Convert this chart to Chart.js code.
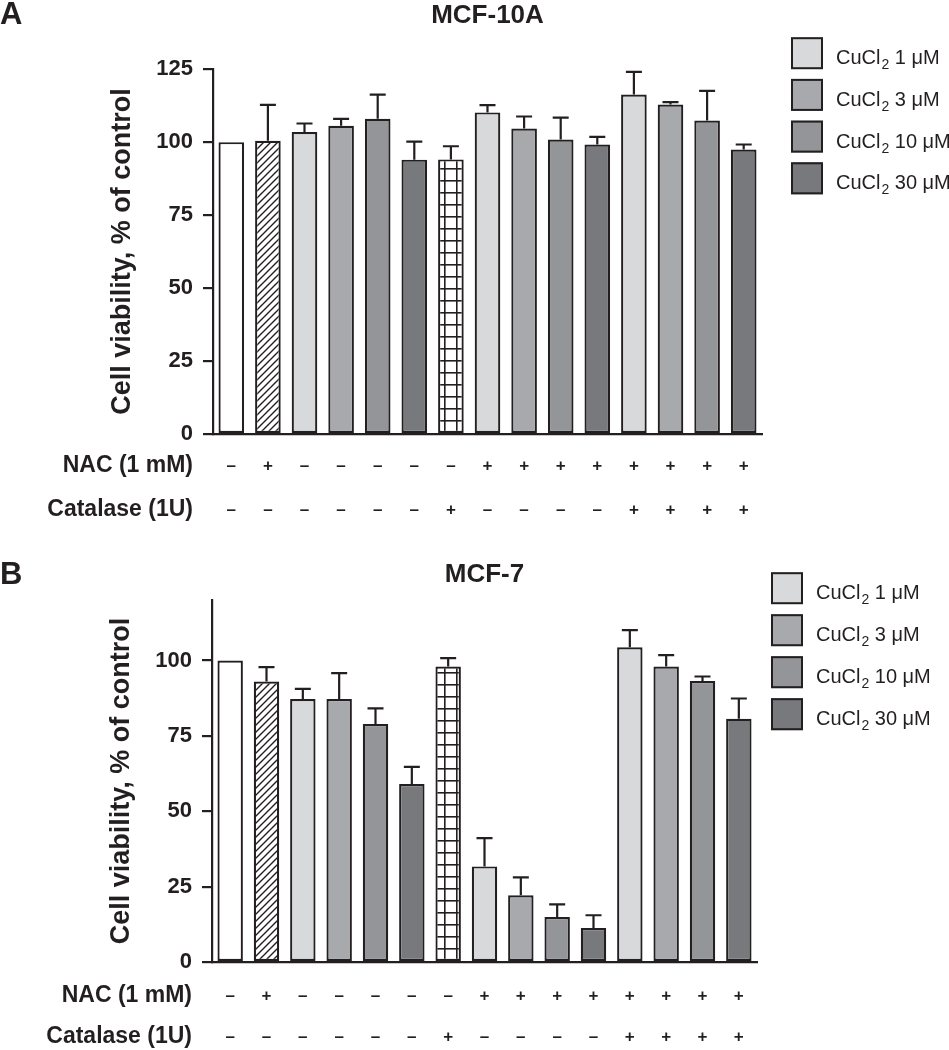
<!DOCTYPE html>
<html>
<head>
<meta charset="utf-8">
<script src="https://cdn.jsdelivr.net/npm/chart.js@4.4.1/dist/chart.umd.min.js"></script>
<style>
  body { margin: 0; background: #fff; font-family: "Liberation Sans", Arial, sans-serif; }
  #wrap { position: relative; width: 949px; height: 1050px; }
  canvas { position: absolute; left: 0; }
  .panel-letter { position: absolute; left: 0; font-weight: bold; font-size: 31px; line-height: 30px; color: #231f20; }
</style>
</head>
<body>
<div id="wrap">
  <canvas id="chartA" width="949" height="540" style="top:0"></canvas>
  <canvas id="chartB" width="949" height="510" style="top:540px"></canvas>
  <div class="panel-letter" style="top:-1px">A</div>
  <div class="panel-letter" style="top:559px">B</div>
</div>
<script>
// treatment groups (one bar each)
const categories = ['Control', 'NAC', 'CuCl2 1', 'CuCl2 3', 'CuCl2 10', 'CuCl2 30', 'Catalase',
  'NAC + CuCl2 1', 'NAC + CuCl2 3', 'NAC + CuCl2 10', 'NAC + CuCl2 30',
  'NAC + Cat + CuCl2 1', 'NAC + Cat + CuCl2 3', 'NAC + Cat + CuCl2 10', 'NAC + Cat + CuCl2 30'];
const nacSigns      = ['–', '+', '–', '–', '–', '–', '–', '+', '+', '+', '+', '+', '+', '+', '+'];
const catalaseSigns = ['–', '–', '–', '–', '–', '–', '+', '–', '–', '–', '–', '+', '+', '+', '+'];
const cuConcentrations = ['1 μM', '3 μM', '10 μM', '30 μM'];

// MCF-10A
const mcf10aValues = [100, 100.5, 103.5, 105.6, 108, 94, 94.1, 110.2, 104.7, 100.9, 99.2, 116.3, 112.9, 107.4, 97.5];
const mcf10aErrors = [0, 12.3, 2.9, 2.4, 8.3, 6.2, 4.5, 2.5, 4.1, 7.5, 2.6, 7.8, 0.8, 10.2, 1.7];
const yTicksA = [0, 25, 50, 75, 100, 125];

// MCF-7
const mcf7Values = [100, 93.0, 87.2, 87.2, 78.9, 59.0, 98.0, 31.7, 22.1, 14.9, 11.3, 104.4, 98.0, 93.2, 80.7];
const mcf7Errors = [0, 4.8, 3.4, 8.6, 5.2, 5.7, 2.8, 9.4, 6.0, 4.2, 4.2, 5.7, 3.8, 1.5, 6.7];
const yTicksB = [0, 25, 50, 75, 100];

const ink = '#231f20';
const family = '"Liberation Sans", Arial, sans-serif';
Chart.defaults.font.family = family;
Chart.defaults.color = ink;

const cuColors = ['#d8d9db', '#a7a9ac', '#939598', '#78797c'];

function makeHatch() {
  const c = document.createElement('canvas');
  c.width = 7; c.height = 7;
  const g = c.getContext('2d');
  g.fillStyle = '#fff'; g.fillRect(0, 0, 7, 7);
  g.strokeStyle = ink; g.lineWidth = 1.4;
  g.beginPath();
  g.moveTo(-1, 8); g.lineTo(8, -1);
  g.moveTo(-1, 1); g.lineTo(1, -1);
  g.moveTo(6, 8); g.lineTo(8, 6);
  g.stroke();
  return g.createPattern(c, 'repeat');
}

function makeGrid() {
  const c = document.createElement('canvas');
  c.width = 12; c.height = 12;
  const g = c.getContext('2d');
  g.fillStyle = '#fff'; g.fillRect(0, 0, 12, 12);
  g.fillStyle = ink;
  g.fillRect(0, 0, 12, 1.6);
  g.fillRect(0, 0, 1.6, 12);
  return g.createPattern(c, 'repeat');
}

const hatch = makeHatch();
const grid = makeGrid();
const barFills = ['#ffffff', hatch, cuColors[0], cuColors[1], cuColors[2], cuColors[3], grid,
  cuColors[0], cuColors[1], cuColors[2], cuColors[3], cuColors[0], cuColors[1], cuColors[2], cuColors[3]];

const errorBars = {
  id: 'errorBars',
  afterDatasetsDraw(chart) {
    const ds = chart.data.datasets[0];
    const meta = chart.getDatasetMeta(0);
    const y = chart.scales.y;
    const ctx = chart.ctx;
    ctx.save();
    ctx.strokeStyle = ink;
    ctx.lineWidth = 2.2;
    ds.errors.forEach((e, i) => {
      if (!e) return;
      const bar = meta.data[i];
      const top = y.getPixelForValue(ds.data[i]);
      const end = y.getPixelForValue(ds.data[i] + e);
      ctx.beginPath();
      ctx.moveTo(bar.x, top);
      ctx.lineTo(bar.x, end);
      ctx.moveTo(bar.x - 8, end);
      ctx.lineTo(bar.x + 8, end);
      ctx.stroke();
    });
    ctx.restore();
  }
};

function treatmentRows(offsets) {
  return {
    id: 'treatmentRows',
    afterDraw(chart) {
      const { ctx, chartArea, scales: { x } } = chart;
      const rows = [['NAC (1 mM)', nacSigns], ['Catalase (1U)', catalaseSigns]];
      ctx.save();
      ctx.fillStyle = ink;
      ctx.textBaseline = 'middle';
      rows.forEach(([label, signs], r) => {
        const y = chartArea.bottom + offsets[r];
        ctx.font = 'bold 23px ' + family;
        ctx.textAlign = 'right';
        ctx.fillText(label, chartArea.left - 20, y);
        ctx.font = 'bold 17px ' + family;
        ctx.textAlign = 'center';
        signs.forEach((s, i) => ctx.fillText(s, x.getPixelForValue(i), y));
      });
      ctx.restore();
    }
  };
}

function cuLegend(dx, dy, step) {
  return {
    id: 'cuLegend',
    afterDraw(chart) {
      const { ctx, chartArea } = chart;
      ctx.save();
      ctx.textAlign = 'left';
      ctx.textBaseline = 'alphabetic';
      cuConcentrations.forEach((conc, i) => {
        const bx = chartArea.right + dx;
        const cy = chartArea.top + dy + i * step;
        ctx.fillStyle = cuColors[i];
        ctx.fillRect(bx, cy - 16, 32, 32);
        ctx.strokeStyle = ink;
        ctx.lineWidth = 2;
        ctx.strokeRect(bx + 1, cy - 15, 30, 30);
        ctx.fillStyle = ink;
        let tx = bx + 45;
        const base = cy + 11;
        ctx.font = '20px ' + family;
        ctx.fillText('CuCl', tx, base);
        tx += ctx.measureText('CuCl').width + 1;
        ctx.font = '14px ' + family;
        ctx.fillText('2', tx, base + 5);
        tx += ctx.measureText('2').width;
        ctx.font = '20px ' + family;
        ctx.fillText(' ' + conc, tx, base);
      });
      ctx.restore();
    }
  };
}

function makeChart(id, cfg) {
  return new Chart(document.getElementById(id), {
    type: 'bar',
    data: {
      labels: categories,
      datasets: [{
        data: cfg.values,
        errors: cfg.errors,
        backgroundColor: barFills,
        borderColor: ink,
        borderWidth: 2.2,
        borderSkipped: false,
        barPercentage: 0.7,
        categoryPercentage: 1
      }]
    },
    options: {
      responsive: false,
      animation: false,
      devicePixelRatio: 1,
      layout: { padding: { left: cfg.left, right: cfg.right, top: 0, bottom: 0 } },
      plugins: {
        legend: { display: false },
        tooltip: { enabled: false },
        title: {
          display: true,
          text: cfg.title,
          fullSize: false,
          color: ink,
          font: { size: 26, weight: 'bold' },
          padding: cfg.titlePad
        }
      },
      scales: {
        x: {
          grid: { display: false },
          border: { display: true, color: ink, width: 2.2 },
          ticks: { display: false },
          afterFit: s => { s.height = cfg.bottom; }
        },
        y: {
          min: 0,
          max: cfg.yMax,
          afterBuildTicks: s => { s.ticks = cfg.yTicks.map(v => ({ value: v })); },
          grid: { drawOnChartArea: false, drawTicks: true, tickLength: 10, color: ink, lineWidth: 2.2 },
          border: { display: true, color: ink, width: 2.2 },
          ticks: { color: ink, font: { size: 22, weight: 'bold' }, padding: 10 },
          title: {
            display: true,
            text: 'Cell viability, % of control',
            color: ink,
            font: { size: 27, weight: 'bold' },
            padding: { top: 3, bottom: 4 }
          },
          afterFit: s => { s.width = 110; }
        }
      }
    },
    plugins: [errorBars, treatmentRows(cfg.rowOffsets), cuLegend(cfg.legend[0], cfg.legend[1], cfg.legend[2])]
  });
}

makeChart('chartA', {
  title: 'MCF-10A',
  values: mcf10aValues,
  errors: mcf10aErrors,
  yMax: 125,
  yTicks: yTicksA,
  left: 103,
  right: 187,
  bottom: 106,
  titlePad: { top: 0, bottom: 38 },
  rowOffsets: [32, 76],
  legend: [29, -16, 41.7]
});

makeChart('chartB', {
  title: 'MCF-7',
  values: mcf7Values,
  errors: mcf7Errors,
  yMax: 120,
  yTicks: yTicksB,
  left: 102,
  right: 192,
  bottom: 88,
  titlePad: { top: 19, bottom: 10 },
  rowOffsets: [34, 75],
  legend: [14, -12, 42]
});
</script>
</body>
</html>
